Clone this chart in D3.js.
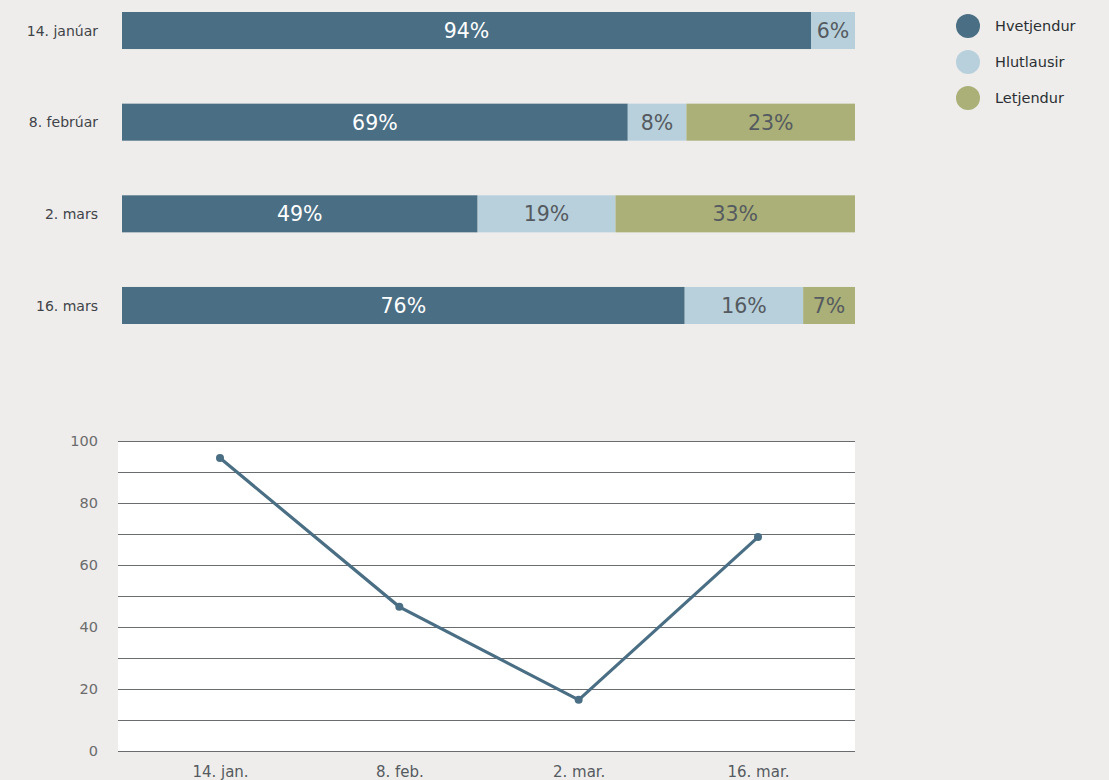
<!DOCTYPE html>
<html><head><meta charset="utf-8">
<script src="https://cdn.jsdelivr.net/npm/d3@7"></script>
<style>
html,body{margin:0;padding:0;background:#eeedeb;}
svg{display:block;}
text{font-family:"DejaVu Sans",sans-serif;}
</style></head>
<body>
<svg id="c" width="1109" height="780"></svg>
<script>
const barCategories = ["14. janúar", "8. febrúar", "2. mars", "16. mars"];
const seriesNames = ["Hvetjendur", "Hlutlausir", "Letjendur"];
const hvetjendur = [94, 69, 49, 76];
const hlutlausir = [6, 8, 19, 16];
const letjendur = [0, 23, 33, 7];
const lineCategories = ["14. jan.", "8. feb.", "2. mar.", "16. mar."];
const lineValues = [94.5, 46.5, 16.5, 69];
const yTicks = [0, 20, 40, 60, 80, 100];
const colors = ["#4a6e84", "#b7d0dc", "#aab077"];
const textColors = ["#ffffff", "#555a60", "#555a60"];

const svg = d3.select("#c");
const series = [hvetjendur, hlutlausir, letjendur];

// ---- Stacked bar chart ----
const xb = d3.scaleLinear().domain([0, 1]).range([122, 855]);
const yb = d3.scaleBand().domain(barCategories).range([12, 324]).paddingInner(0.596).paddingOuter(0);

barCategories.forEach((cat, i) => {
  const vals = series.map(s => s[i]);
  const total = d3.sum(vals);
  let acc = 0;
  vals.forEach((v, j) => {
    if (v <= 0) return;
    const x0 = xb(acc / total), x1 = xb((acc + v) / total);
    acc += v;
    svg.append("rect").attr("x", x0).attr("y", yb(cat)).attr("width", x1 - x0)
      .attr("height", yb.bandwidth()).attr("fill", colors[j]);
    svg.append("text").attr("x", (x0 + x1) / 2).attr("y", yb(cat) + yb.bandwidth() / 2)
      .attr("dy", "0.36em").attr("text-anchor", "middle").attr("fill", textColors[j])
      .attr("font-family", "DejaVu Sans Condensed, DejaVu Sans, sans-serif")
      .attr("font-size", 20.5).text(v + "%");
  });
  svg.append("text").attr("x", 98).attr("y", yb(cat) + yb.bandwidth() / 2).attr("dy", "0.36em")
    .attr("text-anchor", "end").attr("fill", "#3f4348").attr("font-size", 14).text(cat);
});

// ---- Legend ----
seriesNames.forEach((n, j) => {
  const y = 26 + j * 36;
  svg.append("circle").attr("cx", 968).attr("cy", y).attr("r", 12).attr("fill", colors[j]);
  svg.append("text").attr("x", 995).attr("y", y).attr("dy", "0.36em").attr("fill", "#2b2f33")
    .attr("font-size", 14.5).text(n);
});

// ---- Line chart ----
const xl = d3.scalePoint().domain(lineCategories).range([220, 758]).padding(0);
const yl = d3.scaleLinear().domain([0, 100]).range([751, 441]);

svg.append("rect").attr("x", 118).attr("y", yl(100)).attr("width", 737)
  .attr("height", yl(0) - yl(100)).attr("fill", "#ffffff");

const grid = d3.range(0, 101, 10);
svg.append("g").selectAll("line").data(grid).join("line")
  .attr("x1", 118).attr("x2", 855)
  .attr("y1", d => Math.round(yl(d)) + 0.5).attr("y2", d => Math.round(yl(d)) + 0.5)
  .attr("stroke", "#6a6d70").attr("stroke-width", 1);

const yAxis = svg.append("g").attr("transform", "translate(118,0)")
  .call(d3.axisLeft(yl).tickValues(yTicks).tickSize(0).tickPadding(20));
yAxis.select(".domain").remove();
yAxis.selectAll("text").attr("font-family", "Roboto, Liberation Sans, Arial, sans-serif")
  .attr("font-size", 14.5).attr("fill", "#6b6b6b");

const xAxis = svg.append("g").attr("transform", "translate(0,751)")
  .call(d3.axisBottom(xl).tickSize(0).tickPadding(15));
xAxis.select(".domain").remove();
xAxis.selectAll("text").attr("font-size", 15).attr("fill", "#555a60")
  .attr("font-family", "DejaVu Sans Condensed, DejaVu Sans, sans-serif");

const line = d3.line().x((d, i) => xl(lineCategories[i])).y(d => yl(d));
svg.append("path").datum(lineValues).attr("d", line).attr("fill", "none")
  .attr("stroke", "#4a6e84").attr("stroke-width", 3.2);
svg.append("g").selectAll("circle").data(lineValues).join("circle")
  .attr("cx", (d, i) => xl(lineCategories[i])).attr("cy", d => yl(d)).attr("r", 4)
  .attr("fill", "#4a6e84");
</script>
</body></html>
